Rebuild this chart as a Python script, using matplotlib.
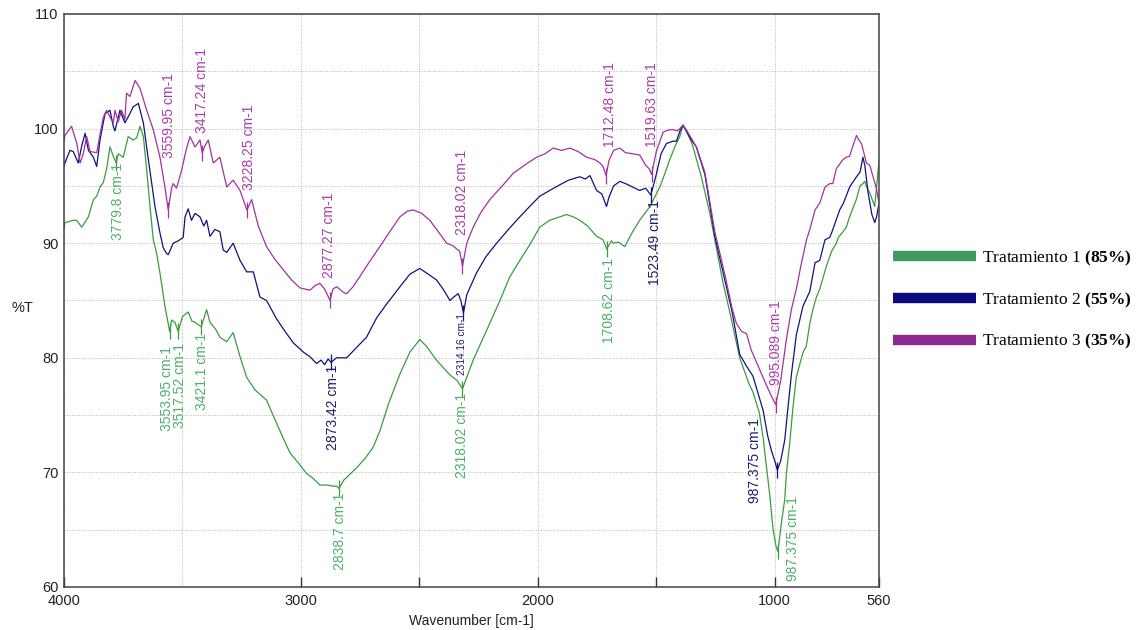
import numpy as np
import matplotlib
matplotlib.use("Agg")
import matplotlib.pyplot as plt
from matplotlib.lines import Line2D

plt.rcParams['font.family'] = ['Liberation Sans', 'DejaVu Sans']
plt.rcParams['mathtext.fontset'] = 'custom'
plt.rcParams['mathtext.rm'] = 'Liberation Serif'
plt.rcParams['mathtext.bf'] = 'Liberation Serif:bold'

wn_t1 = [4000, 3996, 3961, 3947, 3925, 3897, 3876, 3862, 3848, 3834, 3820, 3806, 3792, 3780, 3771,
         3750, 3729, 3708, 3693, 3679, 3665, 3651, 3637, 3623, 3609, 3595, 3574, 3554, 3546, 3532,
         3518, 3500, 3476, 3460, 3447, 3421, 3398, 3384, 3360, 3342, 3313, 3286, 3257, 3229, 3194,
         3145, 3103, 3075, 3046, 3010, 2976, 2950, 2920, 2890, 2864, 2850, 2839, 2820, 2790, 2765,
         2730, 2695, 2667, 2630, 2582, 2540, 2498, 2470, 2428, 2371, 2340, 2318, 2300, 2273, 2240,
         2203, 2160, 2120, 2076, 2030, 1992, 1950, 1907, 1879, 1850, 1823, 1790, 1752, 1725, 1709,
         1690, 1682, 1660, 1633, 1600, 1570, 1527, 1485, 1460, 1443, 1420, 1401, 1387, 1365, 1345,
         1310, 1274, 1240, 1218, 1190, 1148, 1110, 1092, 1065, 1049, 1035, 1021, 1007, 995, 987,
         980, 972, 958, 951, 937, 923, 909, 895, 880, 867, 852, 838, 824, 810, 796,
         782, 760, 740, 732, 712, 698, 684, 656, 640, 628, 620, 610, 599, 585, 578,
         570, 560]
t1 = [91.2, 91.8, 92.0, 92.0, 91.4, 92.3, 93.8, 94.1, 94.9, 95.3, 96.5, 98.4, 97.6, 97.0, 97.8,
      97.5, 99.3, 99.0, 99.2, 100.2, 99.3, 96.4, 93.2, 90.3, 89.1, 87.4, 84.5, 82.3, 83.3, 83.1,
      82.3, 83.6, 84.0, 83.2, 83.1, 82.7, 84.2, 83.1, 82.5, 81.8, 81.4, 82.2, 80.1, 78.3, 77.2,
      76.3, 74.3, 73.0, 71.7, 70.8, 69.9, 69.5, 68.9, 68.9, 68.8, 68.8, 68.6, 69.3, 69.9, 70.4,
      71.2, 72.2, 73.6, 76.0, 78.6, 80.5, 81.6, 81.0, 79.8, 78.5, 78.0, 77.3, 78.3, 79.8, 81.3,
      83.0, 85.0, 87.0, 88.5, 90.0, 91.4, 92.0, 92.3, 92.5, 92.3, 92.0, 91.5, 90.6, 90.3, 89.5,
      90.2, 90.0, 90.1, 89.7, 91.0, 92.0, 93.2, 94.9, 96.3, 97.3, 98.5, 99.3, 100.3, 99.6, 98.4,
      95.8, 92.6, 88.9, 86.5, 84.0, 80.0, 77.8, 77.0, 75.2, 73.0, 70.5, 68.0, 65.0, 63.6, 63.1,
      64.2, 65.6, 67.6, 69.9, 72.5, 75.7, 78.3, 79.4, 80.5, 81.0, 83.0, 84.3, 85.3, 86.0, 87.0,
      88.0, 89.3, 90.0, 90.5, 91.0, 91.4, 92.3, 93.8, 95.0, 95.2, 95.4, 94.8, 94.4, 93.6, 93.2,
      95.0, 97.2]

wn_t2 = [4000, 3996, 3975, 3961, 3940, 3925, 3911, 3897, 3876, 3862, 3848, 3827, 3806, 3792, 3785,
         3764, 3743, 3722, 3708, 3686, 3665, 3644, 3616, 3595, 3581, 3567, 3560, 3539, 3518, 3497,
         3489, 3476, 3462, 3447, 3426, 3410, 3398, 3384, 3363, 3342, 3328, 3313, 3286, 3257, 3229,
         3201, 3173, 3145, 3103, 3067, 3032, 2990, 2962, 2934, 2915, 2900, 2885, 2873, 2850, 2807,
         2765, 2723, 2680, 2638, 2582, 2540, 2498, 2470, 2428, 2400, 2371, 2355, 2336, 2325, 2314,
         2300, 2259, 2220, 2174, 2120, 2076, 2030, 1992, 1950, 1907, 1870, 1823, 1800, 1780, 1752,
         1730, 1710, 1700, 1680, 1654, 1630, 1600, 1570, 1545, 1523, 1500, 1480, 1457, 1430, 1415,
         1400, 1387, 1359, 1331, 1295, 1253, 1211, 1180, 1148, 1120, 1092, 1065, 1049, 1030, 1014,
         1000, 989, 975, 958, 945, 930, 909, 881, 852, 830, 810, 788, 768, 760, 726,
         710, 684, 655, 640, 628, 620, 606, 590, 578, 570, 560]
t2 = [96.7, 97.0, 98.1, 98.0, 97.0, 98.5, 99.6, 98.1, 97.5, 96.7, 99.0, 101.3, 101.6, 100.2, 99.8,
      101.6, 100.5, 101.3, 101.9, 102.2, 100.5, 97.3, 93.2, 90.9, 89.6, 89.1, 89.0, 90.0, 90.2, 90.5,
      92.3, 93.0, 92.0, 92.6, 92.3, 91.5, 92.0, 90.6, 91.2, 91.0, 89.4, 89.2, 90.0, 88.5, 87.5,
      87.5, 85.3, 85.0, 83.4, 82.3, 81.3, 80.5, 80.1, 79.5, 79.8, 79.4, 79.9, 79.6, 80.0, 80.0,
      80.9, 81.8, 83.5, 84.7, 86.2, 87.3, 87.8, 87.4, 86.8, 86.0, 85.0, 85.3, 85.6, 85.0, 83.9,
      85.5, 87.4, 88.8, 90.0, 91.3, 92.3, 93.3, 94.1, 94.6, 95.1, 95.5, 95.8, 95.6, 95.9, 94.6,
      94.3, 93.2, 94.0, 95.0, 95.4, 95.2, 94.9, 94.6, 94.8, 94.2, 96.0, 97.8, 98.7, 98.9, 98.9,
      99.8, 100.3, 99.2, 98.4, 96.0, 90.6, 86.8, 84.0, 80.3, 79.3, 78.4, 76.5, 75.4, 73.2, 71.9,
      71.0, 70.2, 71.0, 72.8, 75.5, 78.5, 82.0, 84.5, 85.8, 88.3, 88.5, 90.3, 90.5, 90.9, 92.9,
      93.5, 94.9, 95.8, 96.2, 97.5, 96.8, 94.4, 92.5, 91.8, 92.3, 93.5]

wn_t3 = [4000, 3996, 3968, 3946, 3932, 3919, 3904, 3890, 3862, 3848, 3834, 3820, 3806, 3792, 3785,
         3771, 3757, 3743, 3736, 3722, 3700, 3679, 3651, 3623, 3595, 3574, 3560, 3546, 3539, 3525,
         3503, 3485, 3468, 3447, 3426, 3417, 3405, 3391, 3370, 3342, 3313, 3286, 3257, 3228, 3208,
         3180, 3145, 3110, 3075, 3040, 3004, 2962, 2940, 2920, 2900, 2877, 2865, 2849, 2820, 2807,
         2780, 2751, 2710, 2667, 2625, 2582, 2550, 2526, 2490, 2456, 2420, 2385, 2360, 2343, 2330,
         2318, 2300, 2273, 2240, 2203, 2150, 2104, 2050, 2005, 1970, 1935, 1900, 1865, 1830, 1794,
         1760, 1738, 1725, 1712, 1700, 1680, 1654, 1630, 1600, 1570, 1545, 1530, 1520, 1500, 1471,
         1445, 1429, 1410, 1387, 1359, 1331, 1295, 1253, 1211, 1180, 1162, 1140, 1119, 1100, 1077,
         1050, 1035, 1015, 996, 975, 951, 930, 909, 890, 866, 852, 830, 810, 788, 768,
         755, 740, 712, 698, 684, 670, 655, 645, 634, 613, 599, 585, 571, 560]
t3 = [98.9, 99.4, 100.2, 98.7, 97.0, 97.8, 99.3, 98.0, 97.9, 99.5, 101.0, 101.6, 101.0, 100.5, 101.6,
      100.6, 101.6, 100.8, 103.1, 102.8, 104.2, 103.5, 101.6, 99.9, 97.5, 94.9, 92.9, 94.8, 95.2, 94.8,
      96.4, 98.1, 99.3, 98.4, 99.0, 97.9, 98.5, 99.0, 97.0, 97.5, 94.9, 95.5, 94.6, 92.9, 93.8,
      91.5, 89.7, 88.6, 87.7, 86.8, 86.1, 85.9, 86.3, 86.5, 86.0, 85.0, 86.0, 86.2, 85.7, 85.6,
      86.2, 87.1, 88.4, 89.7, 91.0, 92.3, 92.8, 92.9, 92.6, 92.0, 91.0, 90.0, 89.8, 89.5, 89.3,
      88.0, 90.0, 91.4, 92.7, 93.8, 95.0, 96.1, 96.9, 97.5, 97.8, 98.3, 98.1, 98.3, 98.0, 97.5,
      97.3, 97.0, 96.7, 95.9, 97.2, 98.1, 98.3, 97.9, 97.8, 97.7, 96.8, 96.5, 96.0, 98.0, 99.7,
      99.9, 99.9, 99.8, 100.3, 99.4, 98.4, 96.2, 91.0, 87.3, 84.3, 83.0, 82.3, 82.1, 80.7, 79.6,
      78.3, 77.6, 76.7, 75.9, 78.0, 81.6, 84.2, 86.0, 88.0, 90.3, 91.2, 92.9, 93.5, 94.9, 95.2,
      95.2, 96.5, 97.3, 97.5, 97.6, 98.5, 99.4, 99.0, 98.7, 97.0, 96.8, 95.8, 94.8, 93.5]

labels = ['Tratamiento 1 $\\mathbf{(85\\%)}$',
          'Tratamiento 2 $\\mathbf{(55\\%)}$',
          'Tratamiento 3 $\\mathbf{(35\\%)}$']

# picos marcados: (serie, numero de onda, texto)
peaks = [
    (0, 3780, '3779.8 cm-1'), (0, 3554, '3553.95 cm-1'), (0, 3518, '3517.52 cm-1'),
    (0, 3421, '3421.1 cm-1'), (0, 2839, '2838.7 cm-1'), (0, 2318, '2318.02 cm-1'),
    (0, 1709, '1708.62 cm-1'), (0, 987, '987.375 cm-1'),
    (1, 2873, '2873.42 cm-1'), (1, 2314, '2314.16 cm-1'), (1, 1523, '1523.49 cm-1'),
    (1, 989, '987.375 cm-1'),
    (2, 3560, '3559.95 cm-1'), (2, 3417, '3417.24 cm-1'), (2, 3228, '3228.25 cm-1'),
    (2, 2877, '2877.27 cm-1'), (2, 2318, '2318.02 cm-1'), (2, 1712, '1712.48 cm-1'),
    (2, 1520, '1519.63 cm-1'), (2, 996, '995.089 cm-1'),
]

# posicion de cada etiqueta (x en cm-1, y en %T, alineacion, tamano)
label_pos = [
    (3771, 97.0, 'top', 10), (3564, 81.0, 'top', 10), (3509, 81.3, 'top', 10),
    (3419, 82.2, 'top', 10), (2835, 68.2, 'top', 10), (2322, 76.9, 'top', 10),
    (1700, 88.7, 'top', 10), (923, 67.9, 'top', 10),
    (2864, 79.4, 'top', 10), (2322, 83.9, 'top', 7.3), (1506, 93.8, 'top', 10),
    (1084, 74.7, 'top', 10),
    (3556, 97.4, 'bottom', 10), (3418, 99.6, 'bottom', 10), (3219, 94.6, 'bottom', 10),
    (2882, 87.0, 'bottom', 10), (2322, 90.7, 'bottom', 10), (1696, 98.4, 'bottom', 10),
    (1520, 98.4, 'bottom', 10), (996, 77.6, 'bottom', 10),
]

line_colors = ['#3a9c3e', '#12127c', '#a2329e']
text_colors = ['#4cb06c', '#1c1c6e', '#aa3caa']
bar_colors = ['#3e9b5e', '#0b0b7e', '#8f2a90']

series = [(wn_t1, t1), (wn_t2, t2), (wn_t3, t3)]

fig = plt.figure(figsize=(11.38, 6.30), dpi=100)
ax = fig.add_axes([64 / 1138, 1 - 587 / 630, 815 / 1138, 573 / 630])

for (x, y), c in zip(series, line_colors):
    ax.plot(x, y, color=c, linewidth=0.9)

for (s, w, txt), (tx, ty, va, fs) in zip(peaks, label_pos):
    x, y = series[s]
    yv = np.interp(w, x[::-1], y[::-1])
    ax.plot([w], [yv], marker='|', markersize=11, markeredgewidth=0.9, color=line_colors[s])
    ax.text(tx, ty, txt, rotation=90, ha='center', va=va, fontsize=fs, color=text_colors[s])

ax.set_xlim(4000, 560)
ax.set_ylim(60, 110)
ax.set_xticks([4000, 3000, 2000, 1000, 560])
ax.set_xticks([3500, 2500, 1500], minor=True)
ax.set_yticks([60, 70, 80, 90, 100, 110])
ax.set_yticks([65, 75, 85, 95, 105], minor=True)
ax.tick_params(axis='x', which='both', direction='in', length=7, width=1, color='#333333',
               labelsize=10.5, labelcolor='#222222', pad=5)
ax.tick_params(axis='y', which='both', length=0, labelsize=10.5, labelcolor='#222222', pad=4)
ax.xaxis.get_minor_ticks()[0].tick1line.set_visible(False)
for t in ax.xaxis.get_major_ticks():
    t.tick2line.set_visible(False)
ax.grid(True, which='both', linestyle=(0, (1, 1.5)), linewidth=0.7, color='#b8b8b8')
for sp in ax.spines.values():
    sp.set_color('#444444')
    sp.set_linewidth(1.1)

ax.set_xlabel('Wavenumber [cm-1]', fontsize=10, color='#222222', labelpad=4)
fig.text(22 / 1138, 1 - 308 / 630, '%T', fontsize=10.5, color='#222222', ha='center', va='center')

handles = [Line2D([], [], color=c, linewidth=7.5, solid_capstyle='butt') for c in bar_colors]
fig.legend(handles, labels, loc='center left', bbox_to_anchor=(893 / 1138, 1 - 300 / 630),
           frameon=False, prop={'family': 'Liberation Serif', 'size': 12.5},
           handlelength=4.8, handletextpad=0.35, labelspacing=1.3,
           borderpad=0, borderaxespad=0)

fig.savefig('out.png', dpi=100)
